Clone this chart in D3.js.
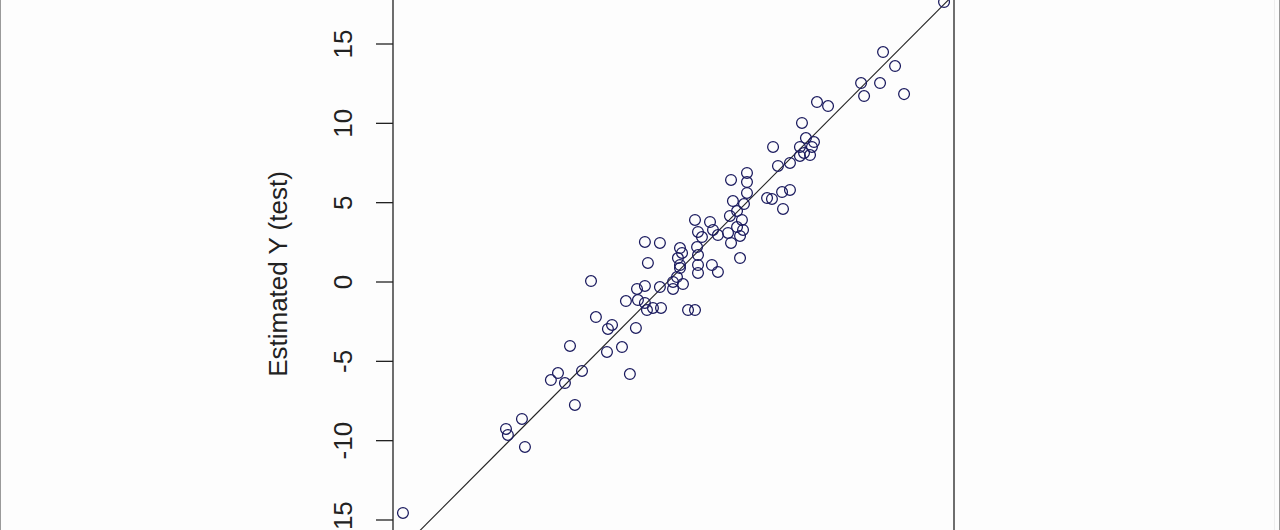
<!DOCTYPE html>
<html>
<head>
<meta charset="utf-8">
<script src="https://cdn.jsdelivr.net/npm/d3@7"></script>
<style>
  html, body { margin: 0; padding: 0; background: #fdfdfd; overflow: hidden; }
  svg { display: block; }
</style>
</head>
<body>
<svg id="chart" width="1280" height="530"></svg>
<script>
const observedX = [
  17.47, 13.61, 14.37, 12.22, 13.42, 12.41, 14.94, 9.43, 10.13, 8.48,
  6.65, 8.73, 9.24, 8.35, 9.11, 8.61, 8.99, 8.35, 6.96, 7.72,
  5.00, 5.00, 3.99, 5.00, 6.27, 6.58, 7.22, 7.72, 7.28, 4.11,
  4.81, 4.37, 3.92, 4.68, 4.37, 4.75, 4.56, 3.80, 3.99, 1.71,
  2.66, 1.90, 2.85, 3.16, 2.15, 1.84, 0.76, 0.89, 0.63, 1.90,
  4.56, -1.46, -0.51, -1.27, 0.76, 0.76, 1.90, 1.90, 2.78, 3.16,
  0.57, 0.32, 0.95, -1.46, -1.96, -0.51, 0.32, -4.87, -2.66, -1.90,
  -1.46, -1.33, -0.95, -0.44, 1.27, 1.71, -4.56, -3.54, -3.80, -2.03,
  -6.20, -3.86, -2.91, -5.44, -6.96, -7.41, -6.52, -2.41, -5.89, -9.24,
  -10.25, -10.13, -9.05, -16.77
];
const estimatedY = [
  17.61, 14.46, 13.58, 12.51, 12.51, 11.69, 11.81, 11.31, 11.06, 9.99,
  8.48, 9.04, 8.79, 8.48, 8.48, 8.10, 7.97, 7.91, 7.28, 7.47,
  6.84, 6.27, 6.40, 5.58, 5.26, 5.20, 5.64, 5.77, 4.57, 5.07,
  4.88, 4.44, 4.13, 3.88, 3.43, 3.25, 2.87, 3.06, 2.43, 3.88,
  3.75, 3.12, 3.25, 2.93, 2.80, 2.17, 2.11, 1.80, 1.48, 1.67,
  1.48, 2.49, 2.43, 1.17, 1.04, 0.85, 1.04, 0.54, 1.04, 0.60,
  0.28, -0.03, -0.16, -0.28, -0.47, -0.35, -0.47, 0.03, -1.23, -1.17,
  -1.35, -1.80, -1.67, -1.67, -1.80, -1.80, -2.24, -2.74, -2.99, -2.93,
  -4.06, -4.44, -4.13, -5.64, -5.77, -6.21, -6.40, -5.83, -7.78, -8.66,
  -9.29, -9.67, -10.43, -14.59
];
const yTicks = [-15, -10, -5, 0, 5, 10, 15];
const yTickLabels = ["-15", "-10", "-5", "0", "5", "10", "15"];
const yLabel = "Estimated Y (test)";

const svg = d3.select("#chart");
const W = 1280, H = 530;

// frame borders of the screenshot
svg.append("line").attr("x1", 0.5).attr("x2", 0.5).attr("y1", 0).attr("y2", H)
  .attr("stroke", "#9a9a9a").attr("stroke-width", 1);
svg.append("line").attr("x1", 1279.5).attr("x2", 1279.5).attr("y1", 0).attr("y2", H)
  .attr("stroke", "#9a9a9a").attr("stroke-width", 1);
svg.append("line").attr("x1", 1274.5).attr("x2", 1274.5).attr("y1", 0).attr("y2", H)
  .attr("stroke", "#eeeeee").attr("stroke-width", 1);

const left = 393, right = 954;
const x = d3.scaleLinear().domain([-17.4, 18.1]).range([left, right]);
const y = d3.scaleLinear().domain([-15, 15]).range([519.5, 43.5]);

const plotTop = y(22), plotBottom = y(-19);

// clip for plotting region
svg.append("clipPath").attr("id", "clip")
  .append("rect").attr("x", left).attr("y", plotTop)
  .attr("width", right - left).attr("height", plotBottom - plotTop);

// box
svg.append("rect")
  .attr("x", left).attr("y", plotTop)
  .attr("width", right - left).attr("height", plotBottom - plotTop)
  .attr("fill", "none").attr("stroke", "#222").attr("stroke-width", 1.3);

// y axis
const yAxis = d3.axisLeft(y).tickValues(yTicks).tickSize(17).tickPadding(0)
  .tickFormat((d, i) => yTickLabels[i]);
const gy = svg.append("g").attr("transform", `translate(${left},0)`).call(yAxis);
gy.select(".domain").remove();
gy.selectAll(".tick line").attr("stroke", "#222").attr("stroke-width", 1.3);
gy.selectAll(".tick text")
  .attr("transform", "rotate(-90)")
  .attr("x", 0).attr("y", -41)
  .attr("dy", 0)
  .attr("text-anchor", "middle")
  .attr("fill", "#222")
  .style("font-family", "Liberation Sans, Arial, sans-serif")
  .style("font-size", "26px");

// axis label
svg.append("text")
  .attr("transform", `translate(287, 274) rotate(-90)`)
  .attr("text-anchor", "middle")
  .attr("fill", "#222")
  .style("font-family", "Liberation Sans, Arial, sans-serif")
  .style("font-size", "26px")
  .text(yLabel);

const g = svg.append("g").attr("clip-path", "url(#clip)");

// y = x reference line
g.append("line")
  .attr("x1", x(-17.4)).attr("y1", y(-17.4))
  .attr("x2", x(18.1)).attr("y2", y(18.1))
  .attr("stroke", "#222").attr("stroke-width", 1.1);

// points
const pts = observedX.map((v, i) => ({ x: v, y: estimatedY[i] }));
g.selectAll("circle.pt").data(pts).enter().append("circle")
  .attr("class", "pt")
  .attr("cx", d => x(d.x)).attr("cy", d => y(d.y))
  .attr("r", 5.4)
  .attr("fill", "none")
  .attr("stroke", "#1a1a5e")
  .attr("stroke-width", 1.25);
</script>
</body>
</html>
